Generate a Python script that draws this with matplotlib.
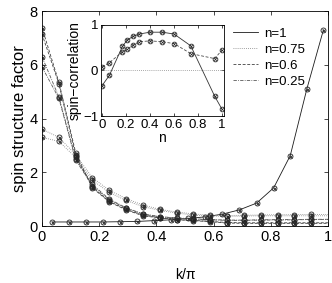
import matplotlib
matplotlib.use("Agg")
import matplotlib.pyplot as plt

plt.rcParams['font.family'] = ['Liberation Sans', 'DejaVu Sans']
plt.rcParams['font.size'] = 10

# main panel: spin structure factor vs k/pi
k_n1 = [0.036, 0.095, 0.154, 0.214, 0.273, 0.332, 0.391, 0.45, 0.51,
        0.57, 0.63, 0.69, 0.75, 0.81, 0.868, 0.926, 0.984]
s_n1 = [0.15, 0.15, 0.15, 0.15, 0.16, 0.17, 0.2, 0.23, 0.28,
        0.34, 0.44, 0.6, 0.85, 1.42, 2.62, 5.1, 7.3]

# other fillings share one k grid (last entry k=1 carries no marker)
k_grid = [0, 0.059, 0.118, 0.176, 0.235, 0.294, 0.353, 0.412, 0.471,
          0.529, 0.588, 0.647, 0.706, 0.765, 0.824, 0.882, 0.941, 1.0]
s_n075a = [3.6, 3.3, 2.65, 1.8, 1.33, 1.02, 0.78, 0.62, 0.52,
           0.45, 0.4, 0.39, 0.4, 0.41, 0.42, 0.42, 0.43, 0.43]
s_n075b = [3.3, 3.15, 2.55, 1.7, 1.25, 0.95, 0.72, 0.58, 0.48,
           0.41, 0.37, 0.36, 0.37, 0.38, 0.38, 0.38, 0.38, 0.38]
s_n06a = [7.38, 5.35, 2.72, 1.42, 0.9, 0.6, 0.38, 0.3, 0.23,
          0.2, 0.16, 0.11, 0.1, 0.1, 0.1, 0.1, 0.1, 0.1]
s_n06b = [7.14, 5.3, 2.6, 1.45, 0.92, 0.62, 0.4, 0.31, 0.24,
          0.21, 0.17, 0.13, 0.12, 0.12, 0.12, 0.12, 0.12, 0.12]
s_n025a = [6.3, 4.8, 2.5, 1.55, 1.0, 0.68, 0.45, 0.35, 0.3,
           0.27, 0.24, 0.22, 0.22, 0.23, 0.24, 0.24, 0.25, 0.25]
s_n025b = [5.92, 4.75, 2.45, 1.5, 0.98, 0.66, 0.44, 0.34, 0.29,
           0.26, 0.23, 0.21, 0.21, 0.22, 0.22, 0.23, 0.24, 0.24]

# inset: spin correlation vs filling n
n_in = [0, 0.06, 0.17, 0.21, 0.26, 0.31, 0.4, 0.5, 0.6, 0.74, 0.94, 1.0]
corr_a = [-0.33, -0.11, 0.53, 0.67, 0.75, 0.8, 0.84, 0.84, 0.8, 0.54, -0.57, -0.85]
corr_b = [0.08, 0.17, 0.41, 0.47, 0.56, 0.63, 0.65, 0.63, 0.59, 0.37, 0.26, 0.45]

DOT = (0, (1, 1.5))
DASH = (0, (3.5, 2))
DASHDOT = (0, (4, 1.5, 1, 1.5))


def markers(ax, x, y, ms=3.6):
    ax.plot(x, y, ls='none', marker='o', ms=ms, mfc='none', mec='0.15', mew=0.6)
    ax.plot(x, y, ls='none', marker='x', ms=ms * 0.6, mec='0.15', mew=0.5)


fig = plt.figure(figsize=(3.32, 2.83), dpi=100)
ax = fig.add_axes([0.1265, 0.2014, 0.8615, 0.7597])

ax.plot(k_n1, s_n1, ls='-', color='0.1', lw=0.6, label='n=1')
ax.plot(k_grid, s_n075a, ls=DOT, color='0.5', lw=0.6, label='n=0.75')
ax.plot(k_grid, s_n06a, ls=DASH, color='0.25', lw=0.6, label='n=0.6')
ax.plot(k_grid, s_n025a, ls=DASHDOT, color='0.35', lw=0.6, label='n=0.25')
ax.plot(k_grid, s_n075b, ls=DOT, color='0.5', lw=0.6)
ax.plot(k_grid, s_n06b, ls=DASH, color='0.25', lw=0.6)
ax.plot(k_grid, s_n025b, ls=DASHDOT, color='0.35', lw=0.6)

markers(ax, k_n1, s_n1)
for s in [s_n075a, s_n075b, s_n06a, s_n06b, s_n025a, s_n025b]:
    markers(ax, k_grid[:-1], s[:-1])

ax.set_xlim(0, 1)
ax.set_ylim(0, 8)
ax.set_xticks([0, 0.2, 0.4, 0.6, 0.8, 1])
ax.set_xticklabels(['0', '0.2', '0.4', '0.6', '0.8', '1'])
ax.set_yticks([0, 2, 4, 6, 8])
ax.tick_params(direction='in', top=True, right=True, length=3, width=0.5,
               pad=3, labelsize=10.5)
for sp in ax.spines.values():
    sp.set_linewidth(0.6)
ax.set_xlabel('k/\u03c0', fontsize=10, labelpad=17)
ax.set_ylabel('spin structure factor', fontsize=12, labelpad=2)

ax.legend(loc='upper left', bbox_to_anchor=(0.645, 0.955), frameon=False,
          fontsize=9.5, borderpad=0, labelspacing=0.3, handlelength=1.9,
          handletextpad=0.45)

# inset
axi = fig.add_axes([0.304, 0.590, 0.370, 0.322])
axi.axhline(0, ls=DOT, color='0.55', lw=0.6)
axi.plot(n_in, corr_a, ls='-', color='0.2', lw=0.6)
axi.plot(n_in, corr_b, ls=DASH, color='0.3', lw=0.6)
markers(axi, n_in, corr_a, ms=3.4)
markers(axi, n_in, corr_b, ms=3.4)
axi.set_xlim(-0.01, 1.015)
axi.set_ylim(-1, 1)
axi.set_xticks([0, 0.2, 0.4, 0.6, 0.8, 1])
axi.set_xticklabels(['0', '0.2', '0.4', '0.6', '0.8', '1'])
axi.set_yticks([-1, 0, 1])
axi.tick_params(direction='in', top=True, right=True, length=2.5, width=0.5,
                pad=2, labelsize=9.5)
for sp in axi.spines.values():
    sp.set_linewidth(0.6)
axi.set_xlabel('n', fontsize=10, labelpad=0)
axi.set_ylabel('spin\u2212correlation', fontsize=10, labelpad=1)

fig.savefig('out.png', dpi=100)
